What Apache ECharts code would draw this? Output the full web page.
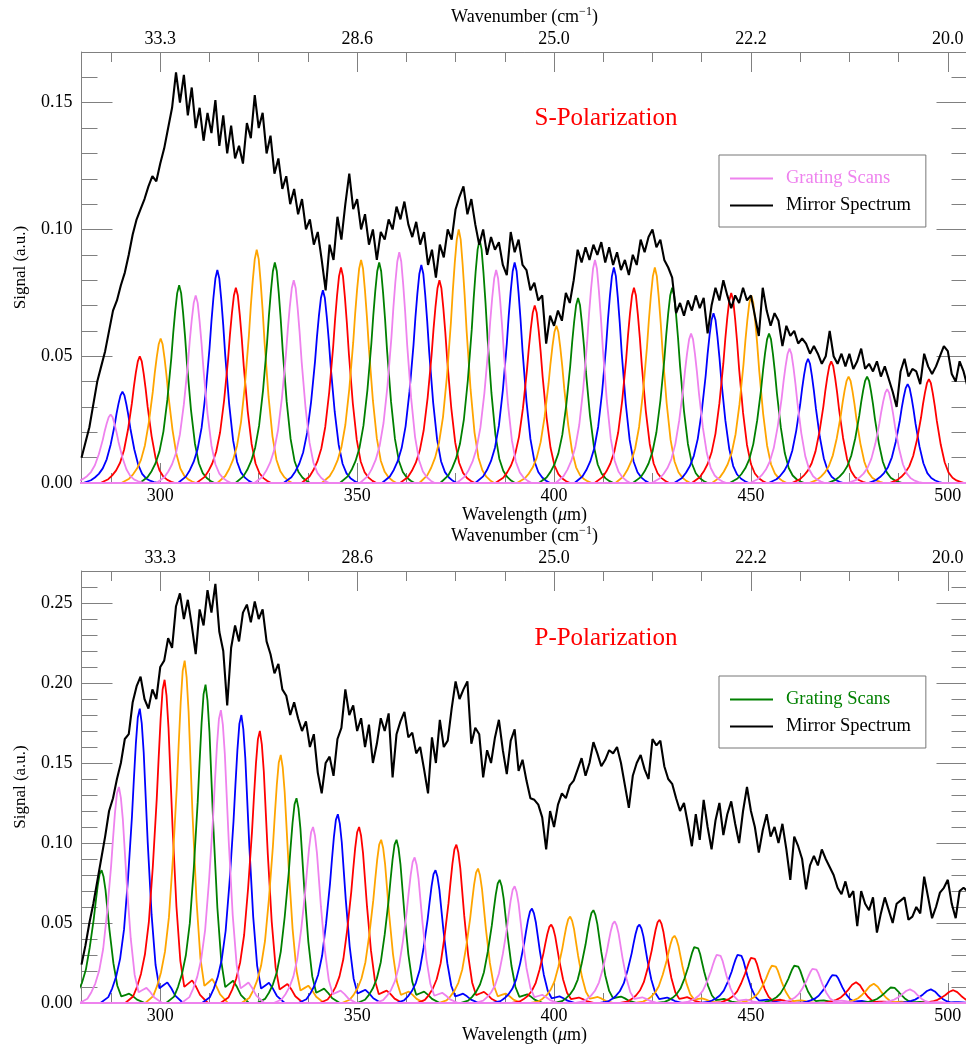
<!DOCTYPE html>
<html>
<head>
<meta charset="utf-8">
<title>Grating scans and mirror spectrum</title>
<script src="https://cdn.jsdelivr.net/npm/echarts@6.0.0/dist/echarts.min.js"></script>
<style>
  html, body { margin: 0; padding: 0; background: #ffffff; }
  #chart { width: 966px; height: 1046px; }
</style>
</head>
<body>
<div id="chart"></div>
<script>
// ---- wavelength range (µm) ----
const WL_MIN = 280;
const WL_MAX = 505;

// ---- mirror spectra, sampled every 1 µm starting at WL_START ----
const WL_START = 280;
const MIRROR_S = [
  0.010, 0.016, 0.022, 0.031, 0.040, 0.046, 0.052, 0.060, 0.068, 0.072,
  0.078, 0.083, 0.090, 0.098, 0.104, 0.108, 0.112, 0.117, 0.121, 0.119,
  0.126, 0.132, 0.140, 0.148, 0.162, 0.150, 0.161, 0.145, 0.156, 0.140,
  0.148, 0.135, 0.146, 0.138, 0.151, 0.133, 0.145, 0.130, 0.141, 0.128,
  0.133, 0.126, 0.142, 0.136, 0.153, 0.140, 0.146, 0.130, 0.137, 0.122,
  0.128, 0.116, 0.121, 0.110, 0.116, 0.106, 0.112, 0.100, 0.104, 0.094,
  0.099, 0.088, 0.076, 0.094, 0.088, 0.105, 0.096, 0.110, 0.122, 0.108,
  0.112, 0.100, 0.106, 0.094, 0.100, 0.088, 0.099, 0.096, 0.104, 0.100,
  0.109, 0.104, 0.111, 0.102, 0.097, 0.103, 0.094, 0.099, 0.086, 0.092,
  0.081, 0.094, 0.089, 0.100, 0.096, 0.108, 0.113, 0.117, 0.106, 0.112,
  0.102, 0.094, 0.100, 0.090, 0.097, 0.092, 0.095, 0.086, 0.082, 0.099,
  0.091, 0.096, 0.086, 0.084, 0.076, 0.079, 0.072, 0.074, 0.055, 0.066,
  0.062, 0.068, 0.064, 0.075, 0.071, 0.080, 0.092, 0.087, 0.093, 0.088,
  0.094, 0.090, 0.095, 0.087, 0.093, 0.086, 0.091, 0.084, 0.088, 0.082,
  0.090, 0.086, 0.096, 0.091, 0.097, 0.100, 0.093, 0.096, 0.088, 0.085,
  0.081, 0.067, 0.071, 0.066, 0.072, 0.068, 0.074, 0.069, 0.073, 0.059,
  0.070, 0.077, 0.072, 0.080, 0.074, 0.069, 0.074, 0.071, 0.077, 0.072,
  0.074, 0.066, 0.058, 0.077, 0.068, 0.062, 0.067, 0.064, 0.054, 0.062,
  0.058, 0.060, 0.055, 0.057, 0.055, 0.051, 0.054, 0.051, 0.047, 0.050,
  0.060, 0.050, 0.047, 0.051, 0.046, 0.051, 0.045, 0.048, 0.053, 0.045,
  0.047, 0.044, 0.048, 0.042, 0.046, 0.041, 0.036, 0.030, 0.044, 0.049,
  0.042, 0.045, 0.044, 0.039, 0.051, 0.046, 0.043, 0.046, 0.050, 0.054,
  0.052, 0.043, 0.040, 0.048, 0.044, 0.038
];
const MIRROR_P = [
  0.024, 0.036, 0.050, 0.062, 0.076, 0.090, 0.104, 0.120, 0.128, 0.140,
  0.150, 0.165, 0.168, 0.188, 0.198, 0.204, 0.190, 0.184, 0.196, 0.190,
  0.210, 0.214, 0.228, 0.222, 0.248, 0.256, 0.240, 0.252, 0.236, 0.218,
  0.246, 0.236, 0.258, 0.244, 0.262, 0.232, 0.220, 0.186, 0.222, 0.236,
  0.226, 0.244, 0.249, 0.238, 0.251, 0.240, 0.246, 0.226, 0.218, 0.206,
  0.212, 0.196, 0.192, 0.180, 0.188, 0.178, 0.170, 0.176, 0.160, 0.168,
  0.144, 0.131, 0.150, 0.154, 0.142, 0.165, 0.172, 0.196, 0.180, 0.186,
  0.170, 0.178, 0.160, 0.174, 0.150, 0.162, 0.178, 0.170, 0.181, 0.141,
  0.168, 0.176, 0.182, 0.166, 0.169, 0.156, 0.160, 0.146, 0.131, 0.166,
  0.150, 0.177, 0.160, 0.164, 0.184, 0.201, 0.190, 0.196, 0.201, 0.162,
  0.172, 0.168, 0.141, 0.158, 0.150, 0.166, 0.177, 0.158, 0.143, 0.164,
  0.171, 0.145, 0.152, 0.139, 0.128, 0.127, 0.124, 0.116, 0.096, 0.120,
  0.110, 0.124, 0.131, 0.128, 0.136, 0.139, 0.146, 0.153, 0.142, 0.150,
  0.163, 0.156, 0.148, 0.152, 0.158, 0.156, 0.160, 0.150, 0.136, 0.122,
  0.142, 0.150, 0.155, 0.146, 0.140, 0.165, 0.161, 0.164, 0.148, 0.140,
  0.137, 0.128, 0.120, 0.125, 0.112, 0.098, 0.118, 0.102, 0.127, 0.110,
  0.096, 0.114, 0.125, 0.105, 0.118, 0.126, 0.112, 0.100, 0.120, 0.135,
  0.120, 0.110, 0.094, 0.108, 0.118, 0.104, 0.110, 0.100, 0.112, 0.096,
  0.077, 0.104, 0.098, 0.090, 0.071, 0.086, 0.092, 0.086, 0.096, 0.090,
  0.085, 0.080, 0.072, 0.068, 0.076, 0.066, 0.070, 0.048, 0.070, 0.062,
  0.058, 0.066, 0.044, 0.056, 0.066, 0.058, 0.050, 0.062, 0.064, 0.066,
  0.052, 0.054, 0.060, 0.056, 0.079, 0.066, 0.053, 0.060, 0.069, 0.072,
  0.077, 0.062, 0.053, 0.070, 0.072, 0.070
];

// ---- grating scans: peak wavelength (µm) and peak signal ----
const S_CENTERS = [
  287.4, 290.4, 294.8, 300.1, 304.8, 309.0, 314.5, 319.2, 324.5, 329.1,
  333.9, 341.3, 345.9, 351.0, 355.6, 360.7, 366.3, 370.9, 375.8, 381.1,
  385.3, 390.0, 395.1, 400.6, 406.1, 410.4, 415.2, 420.3, 425.6, 430.0,
  434.8, 440.5, 445.0, 450.1, 454.6, 459.8, 464.5, 470.4, 474.8, 479.5,
  484.6, 489.8, 495.2
];
const S_HEIGHTS = [
  0.027, 0.036, 0.050, 0.057, 0.078, 0.074, 0.084, 0.077, 0.092, 0.087,
  0.080, 0.076, 0.085, 0.088, 0.087, 0.091, 0.086, 0.080, 0.100, 0.096,
  0.084, 0.087, 0.070, 0.062, 0.073, 0.088, 0.085, 0.077, 0.085, 0.077,
  0.059, 0.067, 0.075, 0.074, 0.059, 0.053, 0.049, 0.048, 0.042, 0.042,
  0.037, 0.039, 0.041
];
const P_CENTERS = [
  285.1, 289.5, 294.8, 301.1, 306.2, 311.5, 315.4, 320.6, 325.3, 330.6,
  334.6, 338.8, 345.1, 350.5, 356.1, 360.0, 364.6, 369.9, 375.2, 380.7,
  386.2, 390.0, 394.4, 399.3, 404.1, 410.0, 415.4, 421.7, 426.8, 430.6,
  436.1, 441.8, 447.1, 450.5, 455.8, 461.5, 466.1, 471.2, 476.7, 481.2,
  486.0, 490.4, 495.7, 501.4
];
const P_HEIGHTS = [
  0.083, 0.135, 0.184, 0.202, 0.214, 0.199, 0.183, 0.180, 0.170, 0.155,
  0.128, 0.110, 0.118, 0.110, 0.102, 0.102, 0.091, 0.083, 0.099, 0.084,
  0.077, 0.073, 0.059, 0.049, 0.054, 0.058, 0.051, 0.049, 0.052, 0.042,
  0.036, 0.031, 0.031, 0.029, 0.024, 0.024, 0.022, 0.018, 0.013, 0.012,
  0.010, 0.0085, 0.0085, 0.008
];

// ---- measured line shape of one scan: offset from peak (µm), fraction of peak ----
const LINE_OFFSETS = [-10, -8, -7, -6, -5, -4, -3, -2, -1.5, -1, -0.5, 0, 0.5, 1, 1.5, 2, 3, 4, 5, 6, 7, 8, 9, 11];
const LINE_SHAPE_S = [0, 0.03, 0.06, 0.10, 0.16, 0.26, 0.42, 0.63, 0.76, 0.87, 0.96, 1, 0.96, 0.86, 0.74, 0.60, 0.37, 0.20, 0.10, 0.05, 0.025, 0.01, 0, 0];
const LINE_SHAPE_P = [0, 0.02, 0.05, 0.09, 0.15, 0.25, 0.42, 0.63, 0.76, 0.88, 0.97, 1, 0.95, 0.85, 0.70, 0.55, 0.30, 0.13, 0.05, 0.06, 0.07, 0.05, 0.025, 0];

// ---- tick values ----
const WL_TICKS = [300, 350, 400, 450, 500];
const WL_MINOR_TICKS = [287.5, 312.5, 325, 337.5, 362.5, 375, 387.5, 412.5, 425, 437.5, 462.5, 475, 487.5];
const S_SIGNAL_MAX = 0.17;
const S_SIGNAL_TICKS = [0, 0.05, 0.10, 0.15];
const S_SIGNAL_MINOR = [0.01, 0.02, 0.03, 0.04, 0.06, 0.07, 0.08, 0.09, 0.11, 0.12, 0.13, 0.14, 0.16];
const P_SIGNAL_MAX = 0.27;
const P_SIGNAL_TICKS = [0, 0.05, 0.10, 0.15, 0.20, 0.25];
const P_SIGNAL_MINOR = [0.01, 0.02, 0.03, 0.04, 0.06, 0.07, 0.08, 0.09, 0.11, 0.12, 0.13, 0.14,
                        0.16, 0.17, 0.18, 0.19, 0.21, 0.22, 0.23, 0.24, 0.26];

// ---- styling ----
const FONT = '"Liberation Serif", "Times New Roman", serif';
const AXIS_GRAY = '#808080';
const SCAN_COLORS = { violet: '#ee82ee', blue: '#0000ff', red: '#ff0000', orange: '#ffa500', green: '#008000' };
const SCAN_CYCLE = ['violet', 'blue', 'red', 'orange', 'green'];
const S_CYCLE_START = 0;   // first S scan is violet
const P_CYCLE_START = 4;   // first P scan is green

const GRID_LEFT = 81.5;
const GRID_WIDTH = 886;

function tickStyle(values, length) {
  return { show: true, inside: true, length: length, customValues: values,
           lineStyle: { color: AXIS_GRAY, width: 1 } };
}

function wavelengthAxes(grid) {
  const base = {
    gridIndex: grid, type: 'value', min: WL_MIN, max: WL_MAX,
    splitLine: { show: false }, axisLine: { show: false, onZero: false },
    axisLabel: { show: false }, axisTick: { show: false }
  };
  const line = { show: true, onZero: false, lineStyle: { color: AXIS_GRAY, width: 1 } };
  const labelStyle = { color: '#000', fontFamily: FONT, fontSize: 18 };
  return [
    Object.assign({}, base, {
      position: 'bottom', axisLine: line, axisTick: tickStyle(WL_TICKS, 20),
      axisLabel: Object.assign({ show: true, customValues: WL_TICKS, margin: 4 }, labelStyle),
      name: '{a|Wavelength (}{i|μ}{a|m)}', nameLocation: 'middle', nameGap: 22,
      nameTextStyle: { rich: {
        a: { fontFamily: FONT, fontSize: 18, color: '#000' },
        i: { fontFamily: FONT, fontSize: 18, color: '#000', fontStyle: 'italic' }
      } }
    }),
    Object.assign({}, base, { position: 'bottom', axisTick: tickStyle(WL_MINOR_TICKS, 10) }),
    Object.assign({}, base, {
      position: 'top', axisLine: line, axisTick: tickStyle(WL_TICKS, 20),
      axisLabel: Object.assign({ show: true, customValues: WL_TICKS, margin: 4,
        formatter: v => (1e4 / v).toFixed(1) }, labelStyle),
      name: '{a|Wavenumber (cm}{s|−1}{a|)}', nameLocation: 'middle', nameGap: 24,
      nameTextStyle: { rich: {
        a: { fontFamily: FONT, fontSize: 18, color: '#000', lineHeight: 22 },
        s: { fontFamily: FONT, fontSize: 12, color: '#000', verticalAlign: 'top', lineHeight: 12 }
      } }
    }),
    Object.assign({}, base, { position: 'top', axisTick: tickStyle(WL_MINOR_TICKS, 10) })
  ];
}

function signalAxes(grid, max, majors, minors) {
  const base = {
    gridIndex: grid, type: 'value', min: 0, max: max,
    splitLine: { show: false }, axisLine: { show: false, onZero: false },
    axisLabel: { show: false }, axisTick: { show: false }
  };
  const line = { show: true, onZero: false, lineStyle: { color: AXIS_GRAY, width: 1 } };
  return [
    Object.assign({}, base, {
      position: 'left', axisLine: line, axisTick: tickStyle(majors, 31),
      axisLabel: { show: true, customValues: majors, margin: 9, formatter: v => v.toFixed(2),
                   color: '#000', fontFamily: FONT, fontSize: 18 },
      name: 'Signal (a.u.)', nameLocation: 'middle', nameGap: 52,
      nameTextStyle: { fontFamily: FONT, fontSize: 17, color: '#000' }
    }),
    Object.assign({}, base, { position: 'left', axisTick: tickStyle(minors, 16) }),
    Object.assign({}, base, { position: 'right', axisLine: line, axisTick: tickStyle(majors, 31) }),
    Object.assign({}, base, { position: 'right', axisTick: tickStyle(minors, 16) })
  ];
}

// one scan: flat baseline across the range with the measured line shape at its peak
function scanPoints(center, height, shape) {
  const pts = [[WL_MIN - 10, 0]];
  LINE_OFFSETS.forEach((d, i) => pts.push([center + d, height * shape[i]]));
  pts.push([WL_MAX + 10, 0]);
  return pts;
}

function scanSeries(centers, heights, shape, cycleStart, axisIndex) {
  const list = centers.map((c, i) => {
    const colorName = SCAN_CYCLE[(cycleStart + i) % SCAN_CYCLE.length];
    return { colorName, series: {
      name: 'Grating Scans', type: 'line', xAxisIndex: axisIndex, yAxisIndex: axisIndex,
      data: scanPoints(c, heights[i], shape), showSymbol: false, symbol: 'none',
      lineStyle: { color: SCAN_COLORS[colorName], width: 1.8 },
      itemStyle: { color: SCAN_COLORS[colorName] },
      silent: true, clip: true
    } };
  });
  // violet scans are drawn last so their baseline sits on top
  const rank = c => (c === 'violet' ? 1 : 0);
  list.sort((a, b) => rank(a.colorName) - rank(b.colorName));
  return list.map(o => o.series);
}

function mirrorSeries(values, axisIndex) {
  return {
    name: 'Mirror Spectrum', type: 'line', xAxisIndex: axisIndex, yAxisIndex: axisIndex,
    data: values.map((v, i) => [WL_START + i, v]), showSymbol: false, symbol: 'none',
    lineStyle: { color: '#000', width: 2.1 }, itemStyle: { color: '#000' },
    silent: true, clip: true
  };
}

function legendBox(top, scanColor) {
  return {
    orient: 'vertical', left: 719, top: top,
    padding: [14, 15, 12, 11], itemGap: 8, itemWidth: 43, itemHeight: 2,
    borderColor: '#777', borderWidth: 1, backgroundColor: '#fff',
    selectedMode: false,
    textStyle: { fontFamily: FONT, fontSize: 18.5, color: '#000', padding: [0, 0, 0, 8] },
    data: [
      { name: 'Grating Scans', icon: 'rect', itemStyle: { color: scanColor }, textStyle: { color: scanColor } },
      { name: 'Mirror Spectrum', icon: 'rect', itemStyle: { color: '#000' }, textStyle: { color: '#000' } }
    ]
  };
}

const option = {
  animation: false,
  backgroundColor: '#ffffff',
  grid: [
    { left: GRID_LEFT, top: 52, width: GRID_WIDTH, height: 431, outerBoundsMode: 'none' },
    { left: GRID_LEFT, top: 571, width: GRID_WIDTH, height: 432, outerBoundsMode: 'none' }
  ],
  xAxis: wavelengthAxes(0).concat(wavelengthAxes(1)),
  yAxis: signalAxes(0, S_SIGNAL_MAX, S_SIGNAL_TICKS, S_SIGNAL_MINOR)
    .concat(signalAxes(1, P_SIGNAL_MAX, P_SIGNAL_TICKS, P_SIGNAL_MINOR)),
  legend: [legendBox(155, SCAN_COLORS.violet), legendBox(676, SCAN_COLORS.green)],
  graphic: [
    { type: 'text', x: 606, y: 118.5, silent: true,
      style: { text: 'S-Polarization', fill: '#ff0000', font: '25px ' + FONT,
               textAlign: 'center', textVerticalAlign: 'middle' } },
    { type: 'text', x: 606, y: 638.5, silent: true,
      style: { text: 'P-Polarization', fill: '#ff0000', font: '25px ' + FONT,
               textAlign: 'center', textVerticalAlign: 'middle' } }
  ],
  series: []
    .concat(scanSeries(S_CENTERS, S_HEIGHTS, LINE_SHAPE_S, S_CYCLE_START, 0))
    .concat([mirrorSeries(MIRROR_S, 0)])
    .concat(scanSeries(P_CENTERS, P_HEIGHTS, LINE_SHAPE_P, P_CYCLE_START, 4))
    .concat([mirrorSeries(MIRROR_P, 4)])
};

const chart = echarts.init(document.getElementById('chart'), null, { renderer: 'canvas' });
chart.setOption(option);
</script>
</body>
</html>
